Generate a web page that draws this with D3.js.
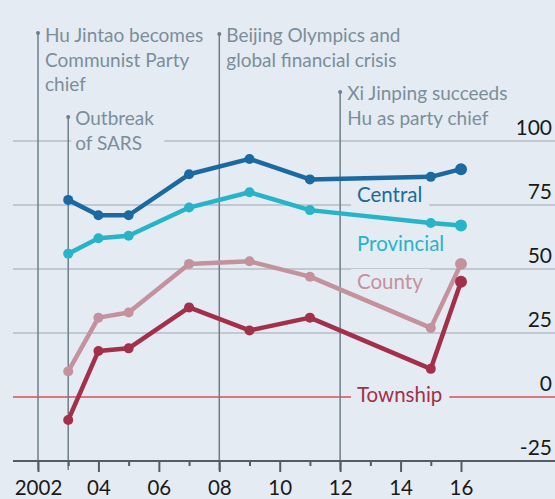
<!DOCTYPE html>
<html>
<head>
<meta charset="utf-8">
<script src="https://cdn.jsdelivr.net/npm/d3@7"></script>
<style>
  html, body { margin: 0; padding: 0; background: #e4ebf2; }
  svg { display: block; font-family: Lato, "Open Sans", sans-serif; }
</style>
</head>
<body>
<svg id="chart" width="555" height="499"></svg>
<script>
// survey years and values per level of government
const years = [2003, 2004, 2005, 2007, 2009, 2011, 2015, 2016];
const central = [77, 71, 71, 87, 93, 85, 86, 89];
const provincial = [56, 62, 63, 74, 80, 73, 68, 67];
const county = [10, 31, 33, 52, 53, 47, 27, 52];
const township = [-9, 18, 19, 35, 26, 31, 11, 45];

const seriesNames = ["Central", "Provincial", "County", "Township"];
const seriesValues = [central, provincial, county, township];

const yTicks = [-25, 0, 25, 50, 75, 100];
const xTicks = d3.range(2002, 2017);
const xTickLabels = ["2002", "04", "06", "08", "10", "12", "14", "16"];

const eventYears = [2002, 2003, 2008, 2012];
const eventLabels = [
    ["Hu Jintao becomes", "Communist Party", "chief"],
    ["Outbreak", "of SARS"],
    ["Beijing Olympics and", "global financial crisis"],
    ["Xi Jinping succeeds", "Hu as party chief"]
];

const colors = {
    Central: "#1a6aa1",
    Provincial: "#27b4c9",
    County: "#c4929d",
    Township: "#a3304a"
};
const bg = "#e4ebf2";

const svg = d3.select("#chart"),
    width = +svg.attr("width"),
    height = +svg.attr("height");

const x = d3.scaleLinear().domain([2002, 2016]).range([38, 461]);
const y = d3.scaleLinear().domain([-25, 100]).range([461, 141]);

svg.append("rect")
    .attr("width", width)
    .attr("height", height)
    .attr("fill", bg);

const gridG = svg.append("g");
const knockG = svg.append("g");
const eventG = svg.append("g");
const textG = svg.append("g");
const dataG = svg.append("g");

// horizontal grid
gridG.selectAll("line.grid")
    .data(yTicks.filter(d => d > 0))
    .enter()
    .append("line")
    .attr("class", "grid")
    .attr("x1", 13)
    .attr("x2", width)
    .attr("y1", d => y(d))
    .attr("y2", d => y(d))
    .attr("stroke", "#b4bec7")
    .attr("stroke-width", 1.5);

gridG.append("line")
    .attr("x1", 13)
    .attr("x2", width)
    .attr("y1", y(0))
    .attr("y2", y(0))
    .attr("stroke", "#d6525a")
    .attr("stroke-width", 1.5);

// y labels
gridG.selectAll("text.ylab")
    .data(yTicks)
    .enter()
    .append("text")
    .attr("class", "ylab")
    .attr("x", 552)
    .attr("y", d => y(d) - 6)
    .attr("text-anchor", "end")
    .attr("font-size", 21)
    .attr("fill", "#1a1a1a")
    .text(d => d);

// x axis
const xAxis = d3.axisBottom(x)
    .tickValues(xTicks)
    .tickSize(0)
    .tickFormat(d => d % 2 === 0 ? xTickLabels[(d - 2002) / 2] : "");

const axisG = svg.append("g")
    .attr("transform", `translate(0,${y(-25)})`)
    .call(xAxis);
axisG.select(".domain").remove();
axisG.selectAll(".tick line")
    .attr("y2", d => d % 2 === 0 ? 11 : 5)
    .attr("stroke", "#555d63")
    .attr("stroke-width", 2);
axisG.selectAll(".tick text")
    .attr("y", 0)
    .attr("dy", 0)
    .attr("transform", "translate(0,34)")
    .attr("font-family", "Lato, 'Open Sans', sans-serif")
    .attr("font-size", 20.5)
    .attr("fill", "#1a1a1a");
axisG.append("line")
    .attr("x1", 13)
    .attr("x2", width)
    .attr("stroke", "#555d63")
    .attr("stroke-width", 2);

// helper: text with knockout box behind it
function label(g, lines, tx, ty, lineHeight, color, size, padL, padR) {
    const t = g.append("text")
        .attr("x", tx)
        .attr("y", ty)
        .attr("font-size", size)
        .attr("fill", color);
    lines.forEach((s, i) => {
        t.append("tspan")
            .attr("x", tx)
            .attr("dy", i === 0 ? 0 : lineHeight)
            .text(s);
    });
    const b = t.node().getBBox();
    knockG.append("rect")
        .attr("x", b.x - padL)
        .attr("y", b.y)
        .attr("width", b.width + padL + padR)
        .attr("height", b.height)
        .attr("fill", bg);
    return t;
}

// event annotations
const eventTops = [33, 117, 34, 92];
const eventBaselines = [42, 125, 42, 100];
eventYears.forEach((yr, i) => {
    eventG.append("line")
        .attr("x1", x(yr))
        .attr("x2", x(yr))
        .attr("y1", eventTops[i])
        .attr("y2", 470)
        .attr("stroke", "#6e7f8a")
        .attr("stroke-width", 1.5);
    eventG.append("circle")
        .attr("cx", x(yr))
        .attr("cy", eventTops[i])
        .attr("r", 2)
        .attr("fill", "#6e7f8a");
    label(textG, eventLabels[i], x(yr) + 7, eventBaselines[i], 24.5,
        "#7b8e9a", 19, 4, 10);
});

// series labels
const seriesLabelY = [202, 251, 289, 402];
seriesNames.forEach((name, i) => {
    label(textG, [name], 357, seriesLabelY[i], 0, colors[name], 20.5, 6, 7);
});

// data lines
const line = d3.line()
    .x((d, i) => x(years[i]))
    .y(d => y(d));

seriesNames.forEach((name, i) => {
    const vals = seriesValues[i];
    dataG.append("path")
        .datum(vals)
        .attr("d", line)
        .attr("fill", "none")
        .attr("stroke", colors[name])
        .attr("stroke-width", 4.5)
        .attr("stroke-linejoin", "round");
    dataG.selectAll(null)
        .data(vals)
        .enter()
        .append("circle")
        .attr("cx", (d, j) => x(years[j]))
        .attr("cy", d => y(d))
        .attr("r", (d, j) => j === vals.length - 1 ? 6 : 5)
        .attr("fill", colors[name]);
});
</script>
</body>
</html>
